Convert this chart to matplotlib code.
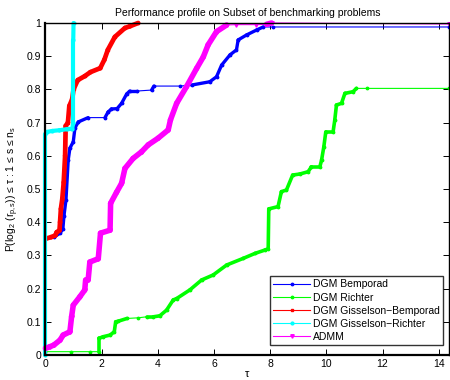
import numpy as np
import matplotlib
matplotlib.use('Agg')
import matplotlib.pyplot as plt
from matplotlib.collections import LineCollection
from matplotlib.ticker import MultipleLocator, FuncFormatter

plt.rcParams['font.family'] = ['Liberation Sans', 'DejaVu Sans']
plt.rcParams['mathtext.fontset'] = 'custom'
plt.rcParams['mathtext.rm'] = 'Liberation Sans'
plt.rcParams['mathtext.it'] = 'Liberation Sans:italic'

# data (tau, fraction of problems)
bemporad_x = [0, 0.3, 0.52, 0.62, 0.66, 0.73, 0.81, 0.87, 0.99, 1.05, 1.17, 1.52, 2.12, 2.23, 2.35,
              2.55, 2.71, 2.89, 3.0, 3.25, 3.78, 3.86, 4.79, 5.2, 5.85, 6.09, 6.27, 6.57, 6.8,
              6.86, 7.16, 7.52, 7.75, 8.1, 14.37]
bemporad_y = [0.35, 0.355, 0.367, 0.38, 0.42, 0.467, 0.587, 0.623, 0.642, 0.684, 0.702, 0.715, 0.715,
              0.732, 0.741, 0.742, 0.758, 0.786, 0.795, 0.795, 0.798, 0.81, 0.81, 0.813, 0.823,
              0.838, 0.873, 0.904, 0.919, 0.949, 0.964, 0.979, 0.988, 0.988, 0.988]

richter_x = [0, 0.9, 1.58, 1.9, 1.9, 2.05, 2.3, 2.45, 2.5, 2.6, 2.9, 3.3, 3.6, 3.84, 4.07, 4.31,
             4.55, 4.67, 5.14, 5.56, 5.97, 6.45, 7.04, 7.46, 7.81, 7.93, 7.95, 8.28, 8.4, 8.58,
             8.8, 9.05, 9.35, 9.47, 9.77, 9.83, 9.91, 9.98, 10.24, 10.3, 10.36, 10.54, 10.66,
             10.95, 11.07, 11.43, 14.37]
richter_y = [0.01, 0.01, 0.01, 0.01, 0.05, 0.055, 0.06, 0.07, 0.1, 0.102, 0.11, 0.112, 0.115, 0.115,
             0.118, 0.135, 0.166, 0.17, 0.196, 0.226, 0.241, 0.271, 0.291, 0.306, 0.316, 0.32,
             0.44, 0.447, 0.492, 0.497, 0.542, 0.545, 0.552, 0.567, 0.567, 0.587, 0.627, 0.672,
             0.672, 0.708, 0.753, 0.758, 0.788, 0.793, 0.803, 0.803, 0.803]

gb_x = [0, 0.2, 0.35, 0.4, 0.5, 0.52, 0.55, 0.6, 0.65, 0.7, 0.72, 0.8, 0.85, 0.95, 1.0, 1.15,
        1.4, 1.6, 1.95, 2.1, 2.22, 2.47, 2.83, 3.0, 3.3]
gb_y = [0.35, 0.355, 0.36, 0.37, 0.375, 0.4, 0.44, 0.47, 0.52, 0.6, 0.69, 0.7, 0.75, 0.77, 0.8,
        0.828, 0.84, 0.852, 0.864, 0.89, 0.919, 0.958, 0.985, 0.99, 1.0]

gr_x = [0, 0, 0.05, 0.25, 0.5, 0.75, 0.95, 0.99, 0.99, 1.0]
gr_y = [0, 0.665, 0.672, 0.675, 0.677, 0.68, 0.68, 0.7, 0.95, 1.0]

admm_x = [0, 0.16, 0.3, 0.52, 0.63, 0.87, 0.93, 0.99, 1.23, 1.4, 1.43, 1.52, 1.58, 1.88, 1.96,
          2.3, 2.32, 2.53, 2.71, 2.83, 3.12, 3.42, 3.66, 4.01, 4.37, 4.45, 4.67, 5.02, 5.38,
          5.62, 5.79, 6.09, 6.45, 6.8, 7.5, 7.87, 8.05, 14.37]
admm_y = [0.02, 0.025, 0.03, 0.045, 0.06, 0.07, 0.115, 0.15, 0.176, 0.196, 0.226, 0.226, 0.28,
          0.29, 0.367, 0.376, 0.457, 0.49, 0.517, 0.562, 0.592, 0.612, 0.633, 0.653, 0.678,
          0.708, 0.758, 0.808, 0.863, 0.898, 0.934, 0.974, 0.994, 0.995, 0.995, 0.996, 1.0, 0.997]

series = [
    ('DGM Bemporad', bemporad_x, bemporad_y, '#0000ff', '.', 3.5, 2.4),
    ('DGM Richter', richter_x, richter_y, '#00ff00', '.', 3.5, 2.6),
    ('DGM Gisselson\u2212Bemporad', gb_x, gb_y, '#ff0000', 's', 2.0, 3.4),
    ('DGM Gisselson\u2212Richter', gr_x, gr_y, '#00ffff', 'o', 2.0, 3.0),
    ('ADMM', admm_x, admm_y, '#ff00ff', 'v', 2.5, 4.0),
]

fig = plt.figure(figsize=(4.5, 3.8), dpi=100)
ax = fig.add_axes([0.101, 0.0658, 0.897, 0.8737])

for name, xs, ys, col, mk, ms, thick in series:
    # thin line with a marker on every point
    ax.plot(xs, ys, color=col, lw=0.8, marker=mk, ms=ms, mec=col, mfc=col,
            label=name, clip_on=False)
    # the profile is a thick band except on long flat stretches
    pts = np.column_stack([xs, ys])
    segs = []
    for i in range(len(pts) - 1):
        dx = pts[i + 1, 0] - pts[i, 0]
        dy = pts[i + 1, 1] - pts[i, 1]
        if dx >= 0.3 and abs(dy) < 0.006:
            continue
        segs.append(pts[i:i + 2])
    lc = LineCollection(segs, colors=col, linewidths=thick, capstyle='round', clip_on=False)
    ax.add_collection(lc)

ax.set_xlim(0, 14.37)
ax.set_ylim(0, 1)
ax.xaxis.set_major_locator(MultipleLocator(2))
ax.yaxis.set_major_locator(MultipleLocator(0.1))
ax.yaxis.set_major_formatter(FuncFormatter(lambda v, p: '%g' % round(v, 1)))
ax.tick_params(direction='in', length=4, width=0.7, labelsize=7.5, top=True, right=True, pad=3)
for sp in ax.spines.values():
    sp.set_linewidth(1.0)
ax.spines['bottom'].set_linewidth(1.6)
ax.spines['left'].set_linewidth(1.6)

ax.set_title('Performance profile on Subset of benchmarking problems', fontsize=7.5, pad=5)
ax.set_xlabel('\u03c4', fontsize=8, labelpad=0)
ylab = 'P(log$_2$ (r$_{\\mathrm{p,s}}$)) \u2264 \u03c4 : 1 \u2264 s \u2264 n$_\\mathrm{s}$'
ax.set_ylabel(ylab, fontsize=7.5, labelpad=4)

leg = ax.legend(loc='lower right', bbox_to_anchor=(0.985, 0.03), borderaxespad=0,
                fontsize=7.5, frameon=True, fancybox=False, handlelength=3.5,
                handletextpad=0.3, labelspacing=0.3, borderpad=0.3)
leg.get_frame().set_edgecolor('black')
leg.get_frame().set_linewidth(1.0)

fig.savefig('out.png', dpi=100)
